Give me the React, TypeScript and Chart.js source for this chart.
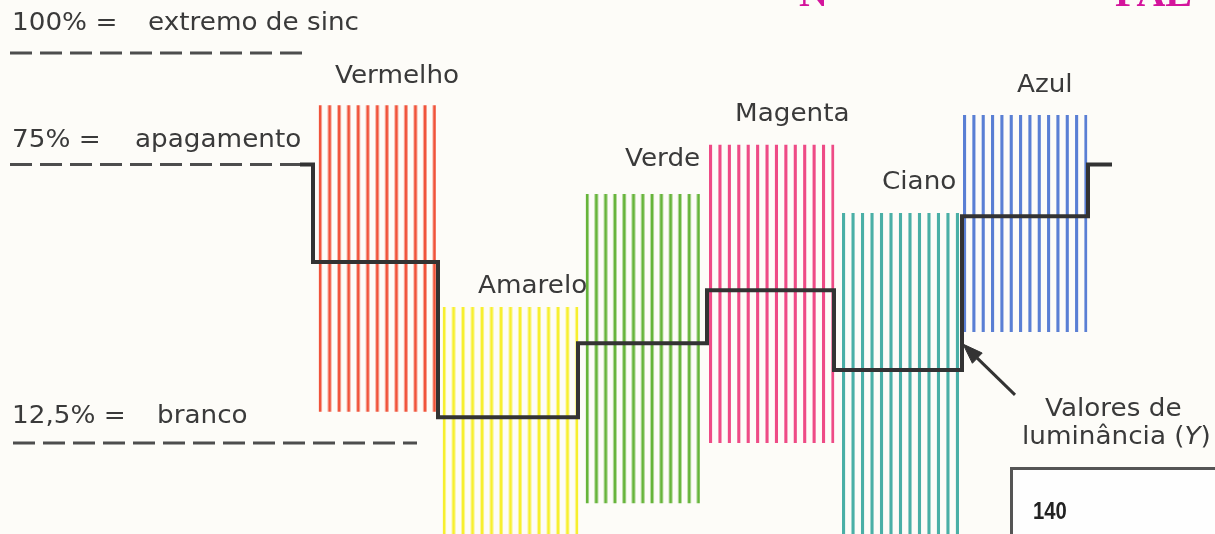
import React, { useEffect, useRef } from 'react';
import { Chart, registerables } from 'chart.js';

Chart.register(...registerables);

const CANVAS_W = 1215;
const CANVAS_H = 534;

// x: position along the scan line (units), y: signal level in %
const X_MIN = 0;
const X_MAX = 1215;
const Y_MIN = -7.9;
const Y_MAX = 111.9;

// colour bars
const colorNames = ['Vermelho', 'Amarelo', 'Verde', 'Magenta', 'Ciano', 'Azul'];
const barColors = ['#f0533a', '#f7ef2f', '#66b43a', '#ee4b86', '#4aafa6', '#5a7fd4'];
const barStart = [318.5, 442.5, 585.5, 709, 842, 963];
const barEnd = [436, 578.5, 700, 834.5, 959, 1087.5];
const barTop = [88.3, 43.0, 68.4, 79.4, 64.1, 86.1];
const barBottom = [19.5, -8, -1.0, 12.5, -8, 37.4];
const stripeCounts = [13, 15, 13, 14, 13, 14];

// luminance staircase
const stepX = [313, 438, 578, 707, 834, 962];
const luminanceLevels = [53.1, 18.3, 34.9, 46.8, 28.9, 63.4];
const blankingLevel = 75;
const staircaseStartX = 300;
const staircaseReturnX = 1088;
const staircaseEndX = 1112;

// reference levels
const refLevels = [100, 75, 12.5];
const refLabels = ['100% =', '75% =', '12,5% ='];
const refNames = ['extremo de sinc', 'apagamento', 'branco'];
const refStartX = [10, 10, 13];
const refEndX = [307, 300, 417];

// arrow pointing to the staircase
const arrowLineX = [1015, 977];
const arrowLineY = [23.3, 31.6];
const arrowHeadX = [963, 982.2, 972.4, 963];
const arrowHeadY = [34.7, 32.7, 30.4, 34.7];

const TEXT = '#3a3a3a';
const LINE = '#333333';

function stripePattern(chart: any, i: number): any {
  const xs = chart.scales && chart.scales.x;
  if (!xs || !chart.ctx) return barColors[i];
  const left = xs.getPixelForValue(barStart[i]);
  const right = xs.getPixelForValue(barEnd[i]);
  if (!isFinite(left) || !isFinite(right) || right - left < 4) return barColors[i];
  const stripeW = 3.1;
  const n = stripeCounts[i];
  const pitch = n > 1 ? (right - left - stripeW) / (n - 1) : right - left;
  const tile = document.createElement('canvas');
  tile.width = Math.max(1, Math.ceil(right - left) + 40);
  tile.height = 4;
  const t = tile.getContext('2d') as CanvasRenderingContext2D;
  t.fillStyle = barColors[i];
  for (let k = 0; k < n; k++) {
    t.fillRect(k * pitch, 0, stripeW, 4);
  }
  const pat = chart.ctx.createPattern(tile, 'repeat');
  if (!pat) return barColors[i];
  pat.setTransform(new DOMMatrix([1, 0, 0, 1, left, 0]));
  return pat;
}

const FONT = '"DejaVu Sans", sans-serif';

function Label({ x, base, children, size = 25 }: any) {
  return (
    <div
      style={{
        position: 'absolute',
        left: x,
        top: base - Math.round(size * 0.846),
        fontFamily: FONT,
        fontSize: size,
        lineHeight: 1,
        color: TEXT,
        whiteSpace: 'nowrap',
        transform: 'scaleX(1.05)',
        transformOrigin: 'left top',
      }}
    >
      {children}
    </div>
  );
}

const nameBaselines = [83, 293, 166, 121, 189, 92];
const nameLefts = [335, 478, 625, 735, 882, 1017];
const refBaselines = [30, 147, 423];
const refNameLefts = [148, 135, 157];

export default function App() {
  const ref = useRef<HTMLCanvasElement | null>(null);

  useEffect(() => {
    if (!ref.current) return;
    const datasets: any[] = [];

    datasets.push({
      label: 'Valores de luminância (Y)',
      data: [
        { x: staircaseStartX, y: blankingLevel },
        ...stepX.map((x, i) => ({ x, y: luminanceLevels[i] })),
        { x: staircaseReturnX, y: blankingLevel },
        { x: staircaseEndX, y: blankingLevel },
      ],
      borderColor: LINE,
      borderWidth: 4,
      stepped: 'before',
      pointRadius: 0,
      fill: false,
      borderJoinStyle: 'miter',
      borderCapStyle: 'butt',
      order: 0,
    });

    datasets.push({
      label: 'arrow',
      data: arrowLineX.map((x, i) => ({ x, y: arrowLineY[i] })),
      borderColor: LINE,
      borderWidth: 3,
      pointRadius: 0,
      fill: false,
      order: 0,
    });
    datasets.push({
      label: 'arrowhead',
      data: arrowHeadX.map((x, i) => ({ x, y: arrowHeadY[i] })),
      borderColor: LINE,
      backgroundColor: LINE,
      borderWidth: 1,
      pointRadius: 0,
      fill: 'shape',
      order: 0,
    });

    refLevels.forEach((lvl, i) => {
      datasets.push({
        label: refNames[i],
        data: [
          { x: refStartX[i], y: lvl },
          { x: refEndX[i], y: lvl },
        ],
        borderColor: '#4d4d4d',
        borderWidth: 3,
        borderDash: [22, 8],
        pointRadius: 0,
        fill: false,
        order: 1,
      });
    });

    colorNames.forEach((name, i) => {
      datasets.push({
        label: name,
        data: [
          { x: barStart[i], y: barTop[i] },
          { x: barEnd[i], y: barTop[i] },
        ],
        borderColor: 'rgba(0,0,0,0)',
        borderWidth: 0,
        pointRadius: 0,
        fill: { value: barBottom[i] },
        backgroundColor: (c: any) => stripePattern(c.chart, i),
        order: 5,
      });
    });

    const chart = new Chart(ref.current, {
      type: 'line',
      data: { datasets },
      options: {
        animation: false,
        responsive: false,
        devicePixelRatio: 1,
        layout: { padding: 0 },
        plugins: {
          legend: { display: false },
          tooltip: { enabled: false },
          title: { display: false },
        },
        scales: {
          x: { type: 'linear', min: X_MIN, max: X_MAX, display: false },
          y: { type: 'linear', min: Y_MIN, max: Y_MAX, display: false },
        },
      } as any,
    });
    return () => chart.destroy();
  }, []);

  return (
    <div
      style={{
        position: 'absolute',
        left: 0,
        top: 0,
        width: CANVAS_W,
        height: CANVAS_H,
        overflow: 'hidden',
        background: '#fdfcf8',
      }}
    >
      <canvas
        ref={ref}
        width={CANVAS_W}
        height={CANVAS_H}
        style={{ position: 'absolute', left: 0, top: 0, width: CANVAS_W, height: CANVAS_H }}
      />
      {refLabels.map((t, i) => (
        <Label key={'rl' + i} x={12} base={refBaselines[i]}>
          {t}
        </Label>
      ))}
      {refNames.map((t, i) => (
        <Label key={'rn' + i} x={refNameLefts[i]} base={refBaselines[i]}>
          {t}
        </Label>
      ))}
      {colorNames.map((t, i) => (
        <Label key={'cn' + i} x={nameLefts[i]} base={nameBaselines[i]}>
          {t}
        </Label>
      ))}
      <Label x={1045} base={416}>Valores de</Label>
      <Label x={1022} base={444}>
        luminância (<i>Y</i>)
      </Label>
      <div
        style={{
          position: 'absolute',
          left: 1010,
          top: 467,
          width: 240,
          height: 120,
          border: '3px solid #555',
          boxSizing: 'border-box',
          background: '#fefefe',
        }}
      />
      <div
        style={{
          position: 'absolute',
          left: 1033,
          top: 500,
          fontFamily: '"Liberation Sans", Arial, sans-serif',
          fontWeight: 'bold',
          fontSize: 23,
          lineHeight: 1,
          color: '#222',
          transform: 'scaleX(0.88)',
          transformOrigin: 'left top',
        }}
      >
        140
      </div>
      <div
        style={{
          position: 'absolute',
          left: 799,
          top: -27,
          fontFamily: '"Liberation Serif", serif',
          fontWeight: 'bold',
          fontSize: 40,
          lineHeight: 1,
          color: '#d4149c',
        }}
      >
        N
      </div>
      <div
        style={{
          position: 'absolute',
          left: 1115,
          top: -27,
          fontFamily: '"Liberation Serif", serif',
          fontWeight: 'bold',
          fontSize: 40,
          lineHeight: 1,
          color: '#d4149c',
        }}
      >
        PAL
      </div>
    </div>
  );
}
